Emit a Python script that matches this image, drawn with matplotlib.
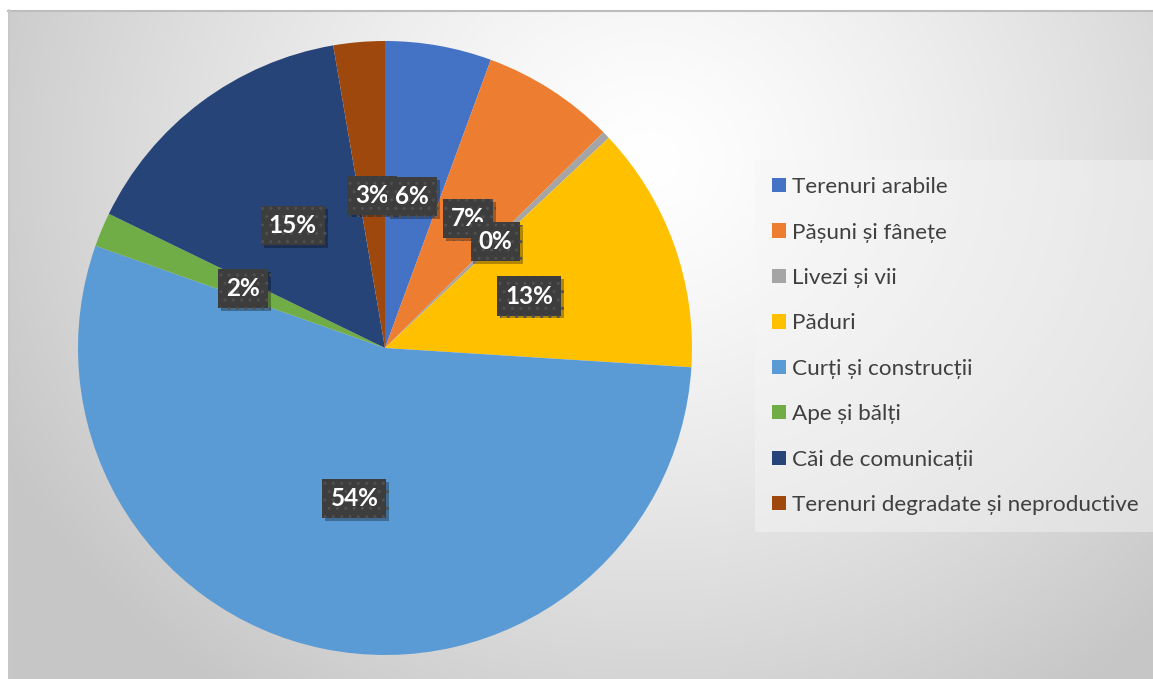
import numpy as np
import matplotlib
matplotlib.use('Agg')
import matplotlib.pyplot as plt
import matplotlib.patheffects as pe
from matplotlib.patches import Patch

plt.rcParams['font.family'] = ['Lato', 'DejaVu Sans']
plt.rcParams['hatch.linewidth'] = 1.0

# Data
categories = ['Terenuri arabile', 'Pășuni și fânețe', 'Livezi și vii', 'Păduri',
              'Curți și construcții', 'Ape și bălți', 'Căi de comunicații',
              'Terenuri degradate și neproductive']
shares = [5.6, 7.0, 0.4, 13.0, 54.4, 1.8, 15.1, 2.7]
colors = ['#4472C4', '#ED7D31', '#A5A5A5', '#FFC000',
          '#5B9BD5', '#70AD47', '#264478', '#9E480E']

W, H = 1153, 679
fig = plt.figure(figsize=(W / 100, H / 100), dpi=100)
fig.patch.set_facecolor('white')

# gradient background panel
bg = fig.add_axes([8 / W, 0, 1 - 8 / W, (H - 10) / H])
yy, xx = np.mgrid[0:H - 10, 0:W - 8]
d = np.sqrt(((xx - 640) / 1.0) ** 2 + ((yy - 150) / 0.9) ** 2)
g = 1.0 - 0.22 * np.clip(d / 720, 0, 1) ** 1.3
bg.imshow(np.dstack([g, g, g]), aspect='auto', interpolation='bilinear')
bg.set_axis_off()
fig.add_artist(plt.Line2D([8 / W, 1], [(H - 10.5) / H] * 2, color='#bdbdbd', lw=1.5))
fig.add_artist(plt.Line2D([8.5 / W] * 2, [0, (H - 10) / H], color='#c8c8c8', lw=1.2))

# pie
cx, cy, r = 385, 348, 307
ax = fig.add_axes([(cx - r) / W, (H - cy - r) / H, 2 * r / W, 2 * r / H])
wedges, texts, autotexts = ax.pie(shares, colors=colors, startangle=90, counterclock=False,
                                  autopct='%.0f%%', pctdistance=0.5,
                                  wedgeprops=dict(linewidth=0))
ax.set_xlim(-1, 1)
ax.set_ylim(-1, 1)
ax.set_aspect('equal')

for i, t in enumerate(autotexts):
    t.set_color('white')
    t.set_fontsize(17.5)
    t.set_fontweight('bold')
    t.set_zorder(5 + i)
    t.set_bbox(dict(boxstyle='square,pad=0.33', facecolor='#3d3d3d',
                    edgecolor='#505050', linewidth=0, hatch='..'))
    t.get_bbox_patch().set_path_effects([
        pe.SimplePatchShadow(offset=(2, -2), alpha=0.3, shadow_rgbFace='black'),
        pe.Normal()])
autotexts[-1].set_zorder(4)

handles = [Patch(facecolor=c, edgecolor='none') for c in colors]
leg = fig.legend(handles, categories, loc='upper left',
                 bbox_to_anchor=(762 / W, 1 - 167 / H),
                 fontsize=16.2, frameon=True, labelspacing=1.13,
                 handlelength=0.6, handleheight=0.6, handletextpad=0.3,
                 borderpad=0.45, borderaxespad=0)
leg.get_frame().set_facecolor('#f6f6f6')
leg.get_frame().set_edgecolor('none')
leg.get_frame().set_alpha(0.45)
leg.get_frame().set_boxstyle('square')
for t in leg.get_texts():
    t.set_color('#404040')

fig.savefig('out.png', dpi=100)
